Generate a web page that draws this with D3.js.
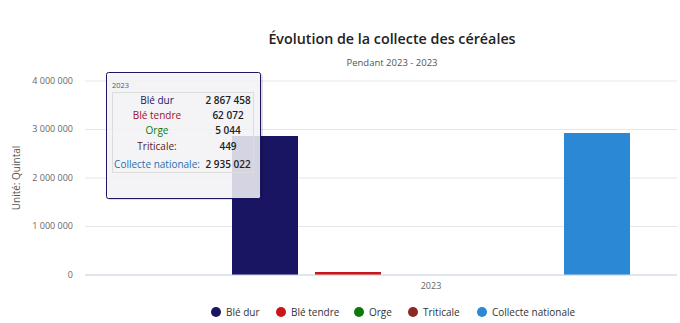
<!DOCTYPE html>
<html><head><meta charset="utf-8">
<script src="https://cdn.jsdelivr.net/npm/d3@7/dist/d3.min.js"></script>
<style>body{margin:0;background:#fff;}svg{display:block;font-family:"Open Sans","DejaVu Sans",sans-serif;}</style>
</head><body><div id="chart"></div>
<script>
const categories = ["2023"];
const seriesNames = ["Blé dur", "Blé tendre", "Orge", "Triticale", "Collecte nationale"];
const seriesValues = [2867458, 62072, 5044, 449, 2935022];
const seriesColors = ["#191563", "#cc1515", "#0b7a0b", "#8a2a22", "#2a88d4"];
const yTicks = [0, 1000000, 2000000, 3000000, 4000000];
const titleText = "Évolution de la collecte des céréales";
const subtitleText = "Pendant 2023 - 2023";
const yTitle = "Unité: Quintal";

const W = 680, H = 323;
const svg = d3.select("#chart").append("svg").attr("width", W).attr("height", H);
const plot = {left: 85, right: 677, top: 80.5, bottom: 274.5};

const fmt = v => d3.format(",")(v).replace(/,/g, " ");

const y = d3.scaleLinear().domain([0, 4000000]).range([plot.bottom, plot.top]);
const x0 = d3.scaleBand().domain(categories).range([85, 777]).paddingInner(0).paddingOuter(1/3);
const x1 = d3.scaleBand().domain(seriesNames).range([0, x0.bandwidth()]).paddingInner(0.2).paddingOuter(0.1);

// title
svg.append("text").attr("x", 392).attr("y", 44).attr("text-anchor", "middle")
  .attr("font-size", 14.3).attr("font-weight", 600).attr("fill", "#222").text(titleText);
svg.append("text").attr("x", 392).attr("y", 66).attr("text-anchor", "middle")
  .attr("font-size", 9.5).attr("fill", "#555").text(subtitleText);

// grid
const yAxis = d3.axisLeft(y).tickValues(yTicks).tickSize(-(plot.right - plot.left)).tickFormat(fmt).tickPadding(12);
const gy = svg.append("g").attr("transform", `translate(${plot.left},0)`).call(yAxis);
gy.select(".domain").remove();
gy.selectAll(".tick line").attr("stroke", "#e6e6e6");
gy.selectAll(".tick text").attr("font-size", 9).attr("fill", "#666").attr("font-family", "\"Open Sans\",sans-serif");

svg.append("text").attr("transform", `translate(20,178) rotate(-90)`).attr("text-anchor", "middle")
  .attr("font-size", 10).attr("fill", "#555").text(yTitle);

// bars (crisp heights, as the reference renders them)
const base = Math.round(y(0));
const hOf = v => Math.max(0, Math.round(y(0) - y(v)));
svg.append("g").selectAll("rect").data(seriesNames).join("rect")
  .attr("x", d => Math.round(x0(categories[0]) + x1(d)))
  .attr("width", Math.round(x1.bandwidth()))
  .attr("y", (d, i) => base - hOf(seriesValues[i]))
  .attr("height", (d, i) => hOf(seriesValues[i]))
  .attr("fill", (d, i) => seriesColors[i]);

// x axis
const xAxis = d3.axisBottom(x0).tickSize(0).tickPadding(8);
const gx = svg.append("g").attr("transform", `translate(0,${plot.bottom})`).call(xAxis);
gx.select(".domain").remove();
svg.append("line").attr("x1", plot.left).attr("x2", plot.right).attr("y1", plot.bottom + 0.5).attr("y2", plot.bottom + 0.5).attr("stroke", "#ccd6eb");
gx.selectAll(".tick text").attr("font-size", 9).attr("fill", "#666").attr("font-family", "\"Open Sans\",sans-serif");

// legend
const legendX = [216, 281, 359, 413, 482];
const lg = svg.append("g").selectAll("g").data(seriesNames).join("g")
  .attr("transform", (d, i) => `translate(${legendX[i]},312)`);
lg.append("circle").attr("r", 5).attr("fill", (d, i) => seriesColors[i]);
lg.append("text").attr("x", 10).attr("y", 3.5).attr("font-size", 10).attr("fill", "#333").text(d => d);

// tooltip
const tt = svg.append("g");
tt.append("rect").attr("x", 108).attr("y", 74).attr("width", 155).attr("height", 126).attr("rx", 2)
  .attr("fill", "rgba(0,0,0,0.12)");
tt.append("rect").attr("x", 106.5).attr("y", 72.5).attr("width", 154).attr("height", 126).attr("rx", 2)
  .attr("fill", "rgba(247,247,250,0.85)").attr("stroke", "#191563").attr("stroke-width", 1);
tt.append("text").attr("x", 112).attr("y", 88).attr("font-size", 7.5).attr("fill", "#555").text(categories[0]);
tt.append("rect").attr("x", 112.5).attr("y", 92.5).attr("width", 141).attr("height", 80).attr("fill", "none").attr("stroke", "#dcdcdc");
const rowY = [104, 119, 134, 150, 168];
const labels = ["Blé dur", "Blé tendre", "Orge", "Triticale:", "Collecte nationale:"];
const labelColors = ["#191563", "#a0101a", "#0b7a0b", "#5a1a14", "#1f6fb0"];
tt.selectAll("text.lab").data(labels).join("text").attr("class", "lab")
  .attr("x", 157).attr("y", (d, i) => rowY[i]).attr("text-anchor", "middle")
  .attr("font-size", 10).attr("fill", (d, i) => labelColors[i]).text(d => d);
tt.selectAll("text.val").data(seriesValues).join("text").attr("class", "val")
  .attr("x", 228).attr("y", (d, i) => rowY[i]).attr("text-anchor", "middle")
  .attr("font-size", 10).attr("font-weight", 600).attr("fill", "#222").text(d => fmt(d));
</script></body></html>
